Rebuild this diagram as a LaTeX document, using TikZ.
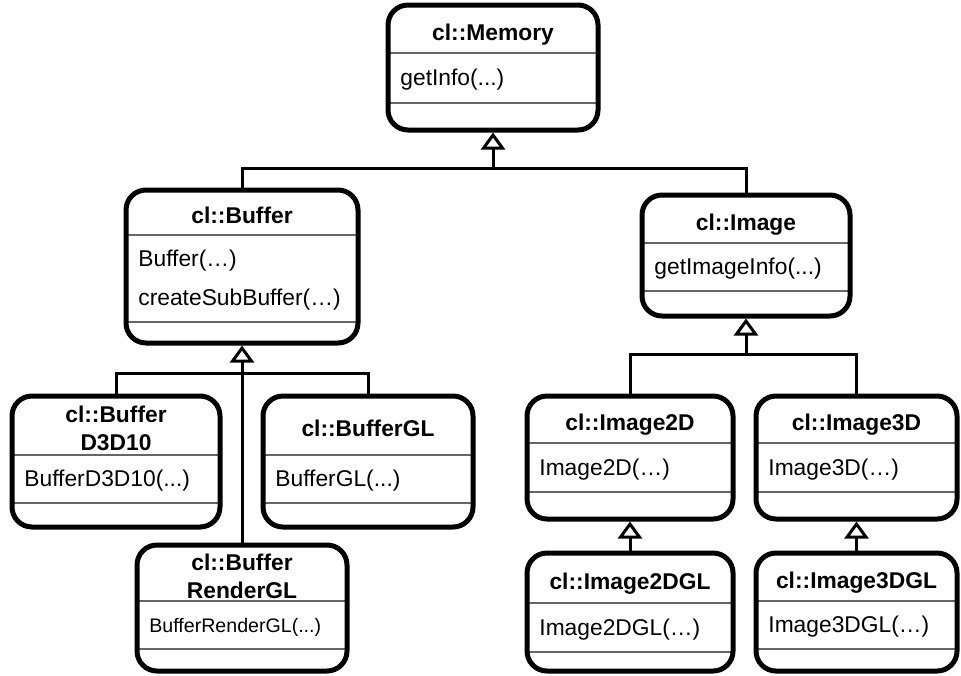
\documentclass[tikz,border=0pt]{standalone}
\usepackage{fontspec}
\setmainfont{Liberation Sans}
\usetikzlibrary{
  arrows.meta,
  calc,
  fit,
  positioning
}
\tikzset{
  classbox/.style={draw, line width=2.5pt, rounded corners=10pt, inner sep=0pt},
  classrule/.style={line width=0.7pt, black!60},
  classname/.style={font=\bfseries\fontsize{11.4}{14}\selectfont, align=center,
    inner sep=0pt, text depth=0pt},
  classops/.style={font=\fontsize{11.4}{19.5}\selectfont, align=left,
    anchor=west, inner sep=0pt},
  umlline/.style={line width=1.5pt},
  umlinherit/.style={umlline, -{Triangle[open, length=8.5pt, width=12pt]}}
}
% #1 name, #2-#5 left/top/right/bottom, #6-#7 rules, #8 title, #9 operations
\newcommand{\umlclass}[9]{%
  \draw[classrule] (#2,#6) -- (#4,#6) (#2,#7) -- (#4,#7);
  \node[classbox, fit={(#2,#3) (#4,#5)}] (#1) {};
  \node[classname] (#1-name) at ($(#2,#3)!0.5!(#4,#6)+(0,3)$) {#8};
  \node[classops] (#1-ops) at ($(#2,#6)!0.5!(#2,#7)+(12,2)$) {#9};
}
\begin{document}
\begin{tikzpicture}[x=0.5pt, y=-0.5pt]
  \useasboundingbox (0,0) rectangle (961,675);
  \umlclass{memory}{388}{5}{598}{130}{53}{103}{cl::Memory}{getInfo(...)}
  \umlclass{buffer}{126}{190}{358}{343}{235}{322}{cl::Buffer}{Buffer(…)\\createSubBuffer(…)}
  \umlclass{image}{642}{195}{850}{316}{243}{291}{cl::Image}{getImageInfo(...)}
  \umlclass{bufferD3D10}{12}{396}{220}{527}{455}{503}{cl::Buffer\\D3D10}{BufferD3D10(...)}
  \umlclass{bufferGL}{263}{396}{473}{527}{455}{503}{cl::BufferGL}{BufferGL(...)}
  \umlclass{bufferRenderGL}{137}{545}{347}{671}{601}{649}{cl::Buffer\\RenderGL}{\fontsize{9.8}{12}\selectfont BufferRenderGL(...)}
  \umlclass{image2D}{527}{396}{733}{519}{443}{492}{cl::Image2D}{Image2D(…)}
  \umlclass{image3D}{756}{396}{957}{519}{443}{492}{cl::Image3D}{Image3D(…)}
  \umlclass{image2DGL}{527}{553}{733}{671}{603}{652}{cl::Image2DGL}{Image2DGL(…)}
  \umlclass{image3DGL}{756}{553}{957}{671}{601}{649}{cl::Image3DGL}{Image3DGL(…)}

  % generalisations
  \coordinate (memJ) at (memory.south |- 0,168);
  \draw[umlline] (buffer.north) |- (memJ) -| (image.north);
  \draw[umlinherit] (memJ) -- (memory.south);

  \coordinate (bufJ) at (buffer.south |- 0,373);
  \draw[umlline] (bufferD3D10.north) |- (bufJ) -| (bufferGL.north);
  \draw[umlinherit] (bufferRenderGL.north) -- (buffer.south);

  \coordinate (imgJ) at (image.south |- 0,354);
  \draw[umlline] (image2D.north) |- (imgJ) -| (image3D.north);
  \draw[umlinherit] (imgJ) -- (image.south);
  \draw[umlinherit] (image2DGL.north) -- (image2D.south);
  \draw[umlinherit] (image3DGL.north) -- (image3D.south);
\end{tikzpicture}
\end{document}
